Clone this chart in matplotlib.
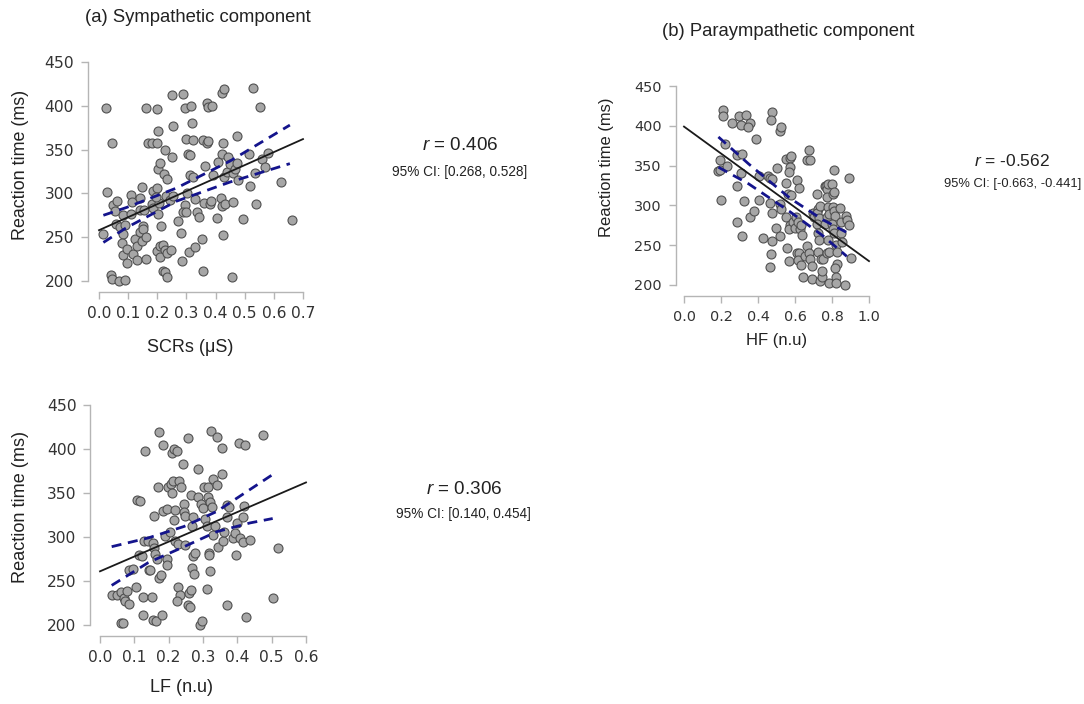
import matplotlib
matplotlib.use("Agg")
import matplotlib.pyplot as plt
from matplotlib.ticker import FormatStrFormatter

plt.rcParams['font.family'] = ['Liberation Sans', 'DejaVu Sans']
plt.rcParams['mathtext.fontset'] = 'custom'
plt.rcParams['mathtext.it'] = 'Liberation Sans:italic'
plt.rcParams['mathtext.rm'] = 'Liberation Sans'

# (a) SCRs vs reaction time
scr_x = [0.024, 0.043, 0.026, 0.015, 0.041, 0.043, 0.070, 0.089, 0.047, 0.063,
         0.055, 0.060, 0.072, 0.083, 0.089, 0.081, 0.078, 0.081, 0.095, 0.097,
         0.109, 0.112, 0.110, 0.118, 0.124, 0.130, 0.130, 0.141, 0.141, 0.146,
         0.150, 0.152, 0.146, 0.160, 0.160, 0.141, 0.154, 0.160, 0.167, 0.181,
         0.184, 0.181, 0.187, 0.198, 0.200, 0.203, 0.204, 0.209, 0.222, 0.232,
         0.227, 0.200, 0.207, 0.196, 0.204, 0.214, 0.198, 0.209, 0.220, 0.227,
         0.209, 0.232, 0.246, 0.218, 0.227, 0.235, 0.229, 0.245, 0.252, 0.253,
         0.249, 0.255, 0.272, 0.281, 0.284, 0.289, 0.295, 0.297, 0.304, 0.312,
         0.301, 0.295, 0.289, 0.297, 0.309, 0.317, 0.320, 0.324, 0.312, 0.324,
         0.329, 0.335, 0.344, 0.329, 0.355, 0.358, 0.372, 0.375, 0.370, 0.375,
         0.389, 0.364, 0.361, 0.356, 0.381, 0.383, 0.404, 0.410, 0.421, 0.425,
         0.421, 0.429, 0.419, 0.421, 0.427, 0.432, 0.430, 0.438, 0.442, 0.450,
         0.455, 0.461, 0.461, 0.467, 0.472, 0.472, 0.478, 0.495, 0.513, 0.518,
         0.529, 0.535, 0.539, 0.553, 0.558, 0.570, 0.581, 0.625, 0.661, 0.392]
scr_rt = [397, 357, 302, 254, 207, 202, 200, 201, 287, 291,
          280, 265, 262, 275, 264, 254, 243, 230, 236, 221,
          298, 290, 277, 231, 248, 240, 224, 256, 295, 307,
          263, 259, 246, 250, 225, 281, 281, 398, 358, 358,
          303, 288, 283, 396, 357, 371, 328, 335, 322, 316,
          350, 306, 289, 296, 276, 263, 234, 240, 241, 235,
          227, 232, 235, 211, 210, 204, 297, 292, 412, 377,
          342, 297, 268, 255, 223, 413, 397, 362, 345, 344,
          300, 287, 279, 279, 233, 400, 380, 361, 321, 319,
          294, 279, 273, 239, 248, 361, 357, 360, 403, 399,
          400, 331, 289, 211, 288, 291, 272, 336, 345, 357,
          415, 419, 295, 286, 252, 288, 319, 324, 341, 334,
          205, 290, 323, 328, 335, 366, 315, 271, 345, 309,
          420, 323, 288, 399, 339, 330, 346, 313, 270, 321]
scr_fit_x = [0.0, 0.7]
scr_fit_y = [258, 362]
scr_band_x = [0.015, 0.095, 0.265, 0.45, 0.655]
scr_band_hi = [275, 284, 306, 337, 378]
scr_band_lo = [244, 261, 291, 313, 334]

# (b) HF vs reaction time
hf_x = [0.211, 0.211, 0.260, 0.298, 0.334, 0.310, 0.356, 0.348, 0.388, 0.473,
        0.469, 0.518, 0.522, 0.220, 0.193, 0.184, 0.193, 0.235, 0.289, 0.314,
        0.307, 0.289, 0.202, 0.323, 0.289, 0.316, 0.356, 0.377, 0.406, 0.404,
        0.428, 0.455, 0.464, 0.473, 0.464, 0.478, 0.473, 0.469, 0.467, 0.496,
        0.505, 0.518, 0.527, 0.518, 0.551, 0.572, 0.581, 0.572, 0.569, 0.554,
        0.563, 0.554, 0.572, 0.569, 0.558, 0.569, 0.581, 0.590, 0.599, 0.612,
        0.621, 0.608, 0.617, 0.626, 0.612, 0.623, 0.614, 0.630, 0.635, 0.639,
        0.644, 0.653, 0.666, 0.680, 0.677, 0.666, 0.677, 0.680, 0.690, 0.690,
        0.695, 0.702, 0.717, 0.726, 0.717, 0.731, 0.735, 0.720, 0.726, 0.731,
        0.722, 0.735, 0.740, 0.753, 0.744, 0.747, 0.762, 0.767, 0.774, 0.780,
        0.771, 0.780, 0.774, 0.785, 0.762, 0.780, 0.771, 0.785, 0.785, 0.798,
        0.807, 0.812, 0.812, 0.803, 0.812, 0.816, 0.798, 0.807, 0.812, 0.820,
        0.825, 0.829, 0.816, 0.822, 0.822, 0.843, 0.846, 0.846, 0.852, 0.870,
        0.874, 0.879, 0.894, 0.892, 0.901]
hf_rt = [420, 412, 404, 412, 414, 401, 403, 398, 383, 417,
         407, 394, 398, 377, 357, 343, 344, 350, 363, 365,
         341, 324, 307, 305, 279, 262, 285, 293, 337, 307,
         259, 337, 335, 333, 303, 290, 255, 239, 223, 272,
         347, 302, 295, 262, 358, 359, 362, 348, 342, 328,
         314, 286, 276, 270, 247, 230, 313, 279, 271, 332,
         322, 286, 279, 270, 240, 240, 231, 225, 275, 263,
         210, 236, 357, 357, 370, 249, 240, 233, 224, 207,
         290, 285, 314, 296, 290, 284, 299, 277, 265, 256,
         242, 205, 233, 233, 210, 217, 324, 325, 321, 327,
         286, 298, 310, 289, 277, 256, 240, 242, 203, 327,
         314, 317, 345, 298, 293, 287, 277, 270, 265, 250,
         242, 227, 221, 210, 203, 297, 279, 265, 254, 200,
         287, 282, 275, 335, 234]
hf_fit_x = [0.0, 1.0]
hf_fit_y = [399, 230]
hf_band_x = [0.186, 0.35, 0.573, 0.75, 0.88]
hf_band_hi = [386, 352, 309, 282, 266]
hf_band_lo = [348, 327, 292, 262, 236]

# (c) LF vs reaction time
lf_x = [0.034, 0.049, 0.060, 0.060, 0.067, 0.070, 0.072, 0.080, 0.085, 0.085,
        0.095, 0.105, 0.109, 0.117, 0.115, 0.121, 0.128, 0.131, 0.126, 0.126,
        0.139, 0.143, 0.147, 0.150, 0.153, 0.157, 0.155, 0.163, 0.158, 0.160,
        0.165, 0.168, 0.171, 0.173, 0.177, 0.180, 0.184, 0.184, 0.189, 0.194,
        0.194, 0.196, 0.199, 0.204, 0.207, 0.209, 0.214, 0.211, 0.216, 0.223,
        0.218, 0.216, 0.218, 0.226, 0.230, 0.236, 0.228, 0.233, 0.223, 0.241,
        0.245, 0.246, 0.248, 0.248, 0.255, 0.257, 0.262, 0.260, 0.264, 0.267,
        0.264, 0.267, 0.270, 0.272, 0.274, 0.277, 0.284, 0.286, 0.291, 0.296,
        0.294, 0.301, 0.304, 0.306, 0.311, 0.311, 0.316, 0.316, 0.318, 0.318,
        0.320, 0.320, 0.323, 0.325, 0.328, 0.330, 0.335, 0.340, 0.342, 0.345,
        0.354, 0.356, 0.357, 0.361, 0.369, 0.371, 0.369, 0.377, 0.388, 0.393,
        0.396, 0.400, 0.406, 0.408, 0.416, 0.417, 0.420, 0.422, 0.425, 0.437,
        0.474, 0.505, 0.519]
lf_rt = [234, 234, 237, 202, 202, 231, 227, 239, 224, 263,
         264, 243, 342, 341, 280, 278, 295, 398, 232, 211,
         295, 262, 263, 232, 293, 287, 206, 204, 324, 281,
         275, 357, 419, 253, 257, 211, 405, 330, 301, 332,
         275, 268, 357, 306, 360, 350, 364, 395, 400, 398,
         331, 319, 296, 292, 364, 357, 243, 234, 227, 383,
         338, 328, 324, 291, 412, 223, 221, 236, 240, 265,
         348, 312, 323, 278, 258, 282, 377, 345, 200, 204,
         338, 333, 357, 321, 313, 241, 357, 346, 282, 279,
         261, 340, 421, 334, 366, 302, 313, 414, 359, 289,
         372, 401, 296, 306, 336, 323, 223, 334, 299, 305,
         280, 316, 407, 299, 294, 323, 335, 404, 209, 297,
         416, 231, 287]
lf_fit_x = [0.0, 0.6]
lf_fit_y = [261, 362]
lf_band_x = [0.034, 0.141, 0.245, 0.34, 0.437, 0.503]
lf_band_hi = [289, 299, 312, 329, 354, 371]
lf_band_lo = [245, 271, 289, 306, 316, 321]

rt_ticks = [200, 250, 300, 350, 400, 450]

W, H = 1084, 704
fig = plt.figure(figsize=(W / 100, H / 100), dpi=100)


def rect(x0, x1, y_top, y_bot):
    return [x0 / W, 1 - y_bot / H, (x1 - x0) / W, (y_bot - y_top) / H]


def at(x, y):
    return x / W, 1 - y / H


def panel(r, xs, ys, fx, fy, bx, bhi, blo, xticks, off_l, off_b, fs):
    ax = fig.add_axes(r)
    ax.scatter(xs, ys, s=42, facecolor='#a6a6a6', edgecolor='#505050',
               linewidth=0.8, clip_on=False, zorder=2)
    ax.plot(fx, fy, color='#1a1a1a', lw=1.3, zorder=3, clip_on=False)
    for b in (bhi, blo):
        ax.plot(bx, b, color='#14148c', lw=2.0, dashes=(3.6, 2.4),
                zorder=4, clip_on=False)
    ax.set_xlim(xticks[0], xticks[-1])
    ax.set_ylim(200, 450)
    ax.set_xticks(xticks)
    ax.set_yticks(rt_ticks)
    ax.xaxis.set_major_formatter(FormatStrFormatter('%.1f'))
    for s in ('top', 'right'):
        ax.spines[s].set_visible(False)
    ax.spines['left'].set_position(('outward', off_l))
    ax.spines['bottom'].set_position(('outward', off_b))
    ax.spines['left'].set_bounds(200, 450)
    ax.spines['bottom'].set_bounds(xticks[0], xticks[-1])
    for s in ('left', 'bottom'):
        ax.spines[s].set_color('#b5b5b5')
        ax.spines[s].set_linewidth(1.0)
    ax.tick_params(length=5, width=1.0, color='#b5b5b5', labelcolor='#333333',
                   labelsize=fs, pad=5)
    for lbl in ax.get_xticklabels() + ax.get_yticklabels():
        lbl.set_fontfamily('DejaVu Sans')
    ax.patch.set_alpha(0)
    return ax


panel(rect(99, 303, 62, 281), scr_x, scr_rt, scr_fit_x, scr_fit_y,
      scr_band_x, scr_band_hi, scr_band_lo,
      [0.0, 0.1, 0.2, 0.3, 0.4, 0.5, 0.6, 0.7], 8, 8, 11.2)
panel(rect(684, 869, 86, 285), hf_x, hf_rt, hf_fit_x, hf_fit_y,
      hf_band_x, hf_band_hi, hf_band_lo,
      [0.0, 0.2, 0.4, 0.6, 0.8, 1.0], 6, 8, 10.4)
panel(rect(100, 306, 405, 625), lf_x, lf_rt, lf_fit_x, lf_fit_y,
      lf_band_x, lf_band_hi, lf_band_lo,
      [0.0, 0.1, 0.2, 0.3, 0.4, 0.5, 0.6], 7, 8, 11.2)

txt = dict(color='#222222', ha='center', va='center')
fig.text(*at(85, 17), '(a) Sympathetic component', fontsize=13.3,
         color='#222222', ha='left', va='center')
fig.text(*at(662, 31), '(b) Paraympathetic component', fontsize=13.3,
         color='#222222', ha='left', va='center')

fig.text(*at(21, 165), 'Reaction time (ms)', rotation=90, fontsize=12.9, **txt)
fig.text(*at(607, 167), 'Reaction time (ms)', rotation=90, fontsize=11.9, **txt)
fig.text(*at(21, 507), 'Reaction time (ms)', rotation=90, fontsize=13.1, **txt)

fig.text(*at(190, 347), 'SCRs (\u03bcS)', fontsize=13, **txt)
fig.text(*at(777, 340), 'HF (n.u)', fontsize=12, **txt)
fig.text(*at(182, 688), 'LF (n.u)', fontsize=13, **txt)

fig.text(*at(460, 145), '$r$ = 0.406', fontsize=13.6, **txt)
fig.text(*at(460, 172), '95% CI: [0.268, 0.528]', fontsize=9.8, **txt)
fig.text(*at(1012, 161), '$r$ = -0.562', fontsize=12.5, **txt)
fig.text(*at(1013, 184), '95% CI: [-0.663, -0.441]', fontsize=9.3, **txt)
fig.text(*at(464, 490), '$r$ = 0.306', fontsize=13.6, **txt)
fig.text(*at(463, 514), '95% CI: [0.140, 0.454]', fontsize=9.8, **txt)

fig.savefig('out.png', dpi=100)
